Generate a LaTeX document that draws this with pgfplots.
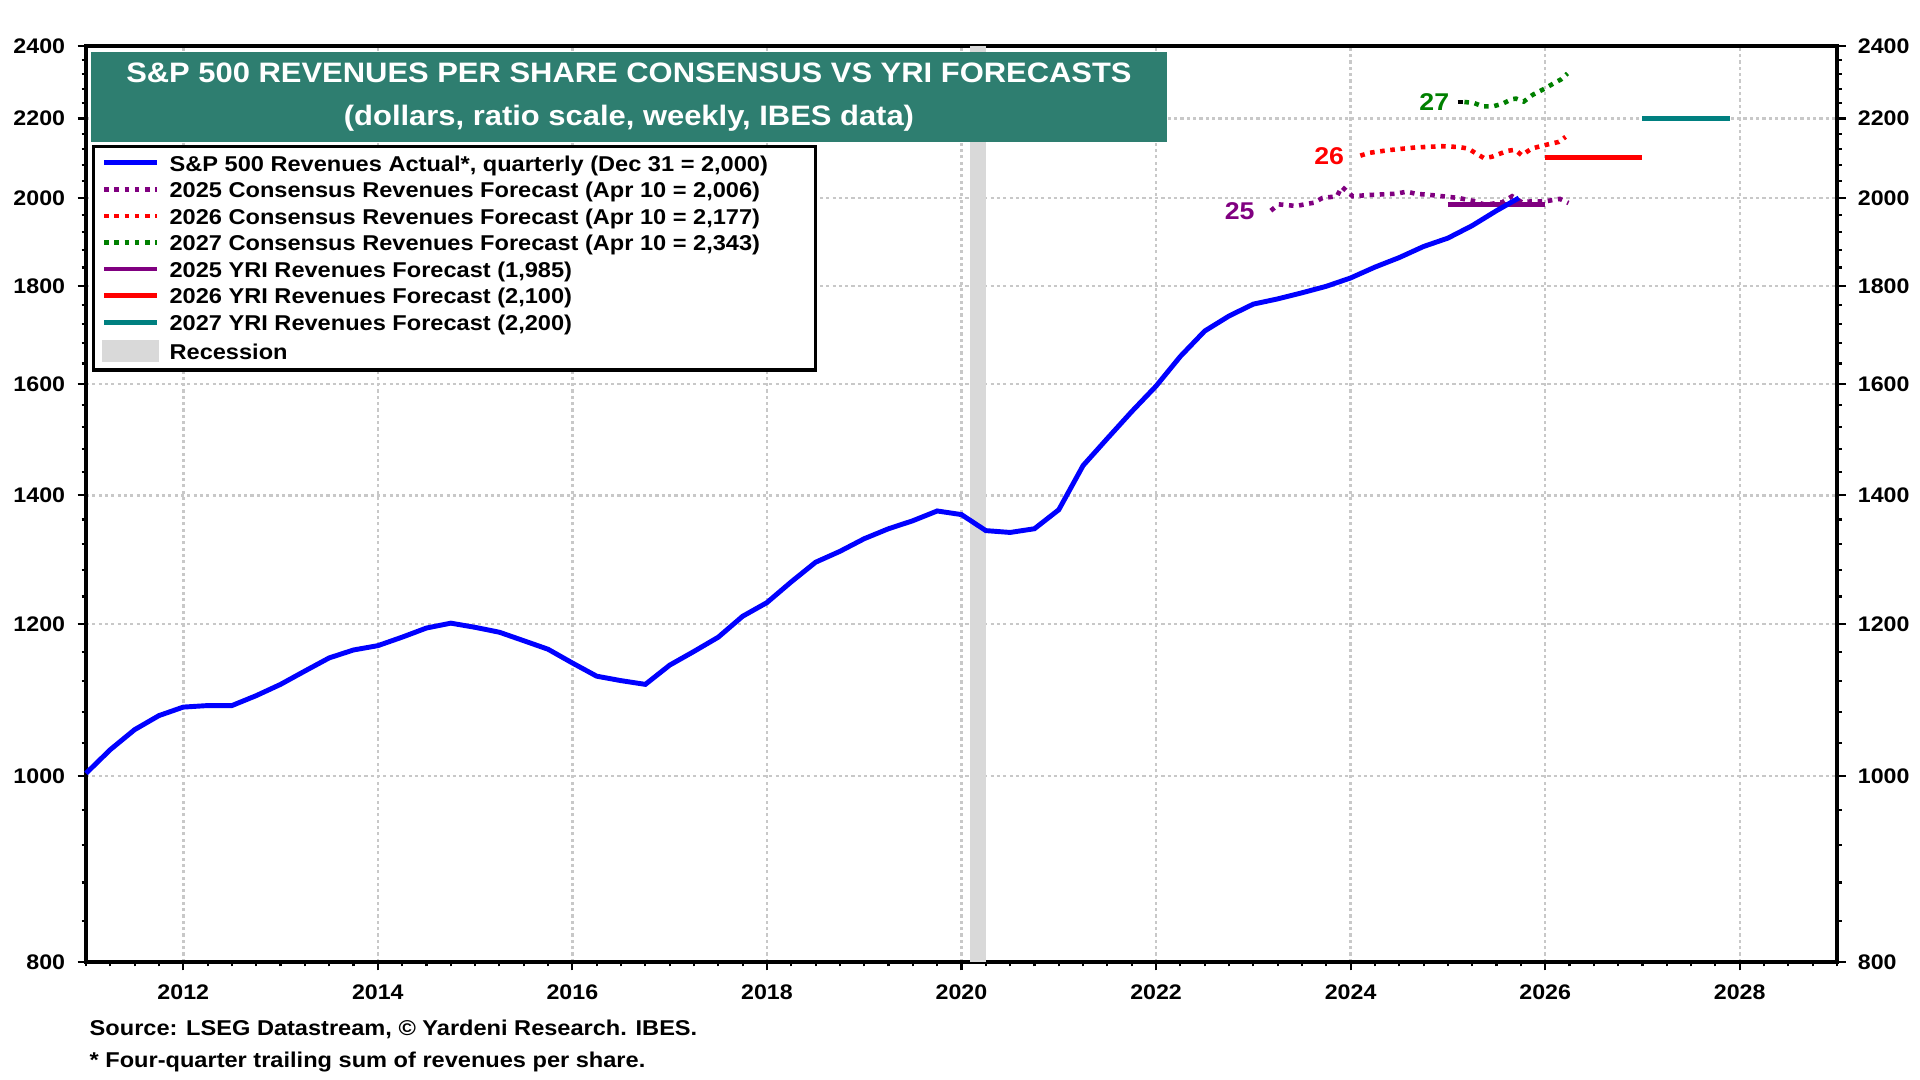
\documentclass[border=0pt]{standalone}
\usepackage{fontspec}
\setmainfont{Liberation Sans}[FakeStretch=1.1]
\usepackage{pgfplots}
\pgfplotsset{compat=1.18}
\usetikzlibrary{calc}
\definecolor{cblue}{RGB}{0,0,255}
\definecolor{cpurple}{RGB}{128,0,128}
\definecolor{cred}{RGB}{255,0,0}
\definecolor{cgreen}{RGB}{0,128,0}
\definecolor{cteal}{RGB}{0,128,128}
\definecolor{titleteal}{RGB}{46,126,112}
\definecolor{recgray}{RGB}{217,217,217}
\definecolor{gridgray}{RGB}{200,200,200}
\newcommand{\ticksz}{\fontsize{6pt}{7pt}\selectfont\bfseries}
\newcommand{\legsz}{\fontsize{6.1pt}{7pt}\selectfont\bfseries}
\newcommand{\footsz}{\fontsize{6.1pt}{7pt}\selectfont\bfseries}
\newcommand{\titlesz}{\fontsize{8pt}{12.23pt}\selectfont\bfseries}
\newcommand{\labsz}{\fontsize{6.9pt}{8pt}\selectfont\bfseries}

\pgfplotstableread{
x y
2011.00 1003
2011.25 1032
2011.50 1057
2011.75 1075
2012.00 1086
2012.25 1088
2012.50 1088
2012.75 1101
2013.00 1116
2013.25 1134
2013.50 1152
2013.75 1163
2014.00 1169
2014.25 1181
2014.50 1194
2014.75 1201
2015.00 1195
2015.25 1188
2015.50 1176
2015.75 1164
2016.00 1145
2016.25 1127
2016.50 1121
2016.75 1116
2017.00 1142
2017.25 1161
2017.50 1181
2017.75 1211
2018.00 1231
2018.25 1262
2018.50 1292
2018.75 1309
2019.00 1329
2019.25 1345
2019.50 1358
2019.75 1374
2020.00 1368
2020.25 1342
2020.50 1339
2020.75 1345
2021.00 1376
2021.25 1451
2021.50 1499
2021.75 1548
2022.00 1596
2022.25 1654
2022.50 1705
2022.75 1736
2023.00 1761
2023.25 1772
2023.50 1785
2023.75 1799
2024.00 1817
2024.25 1841
2024.50 1862
2024.75 1887
2025.00 1906
2025.25 1935
2025.50 1970
2025.73 2000
}\actual

\pgfplotstableread{
x y
2023.18 1970
2023.26 1985
2023.44 1981
2023.62 1989
2023.71 2000
2023.86 2004
2023.91 2027
2024.02 2004
2024.19 2007
2024.46 2010
2024.58 2015
2024.67 2010
2024.87 2006
2025.11 2000
2025.28 1992
2025.38 1984
2025.56 1990
2025.66 2004
2025.76 1990
2025.86 1992
2026.00 1992
2026.15 1998
2026.24 1988
}\consA

\pgfplotstableread{
x y
2024.10 2104
2024.19 2111
2024.39 2118
2024.67 2125
2024.94 2128
2025.11 2126
2025.21 2122
2025.28 2111
2025.37 2098
2025.45 2101
2025.61 2116
2025.69 2119
2025.76 2105
2025.86 2122
2026.00 2131
2026.14 2139
2026.21 2152
}\consB

\pgfplotstableread{
x y
2025.17 2244
2025.27 2241
2025.36 2232
2025.46 2232
2025.56 2239
2025.65 2251
2025.70 2253
2025.78 2245
2025.87 2263
2026.00 2281
2026.09 2295
2026.16 2305
2026.23 2322
}\consC

\begin{document}
\begin{tikzpicture}
\begin{axis}[name=ax, scale only axis, width=17.51cm, height=9.16cm,
  xmin=2011, xmax=2029, ymode=log, ymin=800, ymax=2400, clip=false,
  xtick={2012,2014,2016,2018,2020,2022,2024,2026,2028},
  xticklabels={2012,2014,2016,2018,2020,2022,2024,2026,2028},
  minor xtick={2011,2011.25,...,2029},
  ytick={800,1000,1200,1400,1600,1800,2000,2200,2400},
  yticklabels={800,1000,1200,1400,1600,1800,2000,2200,2400},
  minor ytick={840,880,920,960,1040,1080,1120,1160,1240,1280,1320,1360,1440,1480,1520,1560,1640,1680,1720,1760,1840,1880,1920,1960,2040,2080,2120,2160,2240,2280,2320,2360},
  xtick pos=bottom, ytick pos=both, yticklabel pos=left, tick align=outside,
  major tick length=0.085cm, minor tick length=0.045cm,
  tick style={black, line width=0.6pt},
  grid=major, grid style={gridgray, line width=0.7pt, dash pattern=on 0.9pt off 0.9pt},
  axis line style={line width=1pt},
  ticklabel style={font=\ticksz},
  xticklabel style={yshift=-0.02cm},
  legend style={at={(0.0034,0.892)}, anchor=north west, draw=black, line width=1pt,
    inner xsep=0.08cm, inner ysep=0.08cm, font=\legsz, row sep=2.85pt,
    /tikz/column sep=0.1cm,
    nodes={inner sep=0pt, text height=4.7pt, text depth=0pt, anchor=west}},
  legend cell align=left,
  legend image code/.code={\draw[#1] (0cm,0cm) -- (0.53cm,0cm);},
]
% recession
\addplot[fill=recgray, draw=none, forget plot] coordinates {(2020.083,800) (2020.083,2400) (2020.25,2400) (2020.25,800)} -- cycle;
% YRI forecasts
\addplot[cpurple, line width=1.4pt, forget plot] coordinates {(2025.0,1985) (2026.0,1985)};
\addplot[cred, line width=1.4pt, forget plot] coordinates {(2026.0,2100) (2027.0,2100)};
\addplot[cteal, line width=1.4pt, forget plot] coordinates {(2027.0,2200) (2027.9,2200)};
% consensus
\addplot[cpurple, line width=1.3pt, dash pattern=on 1.3pt off 1.6pt, forget plot] table[x=x,y=y] {\consA};
\addplot[cred, line width=1.3pt, dash pattern=on 1.3pt off 1.6pt, forget plot] table[x=x,y=y] {\consB};
\addplot[cgreen, line width=1.3pt, dash pattern=on 1.3pt off 1.6pt, forget plot] table[x=x,y=y] {\consC};
\addplot[black, line width=1.2pt, forget plot] coordinates {(2025.10,2244) (2025.16,2244)};
% actual
\addplot[cblue, line width=1.4pt, forget plot] table[x=x,y=y] {\actual};

\node[font=\labsz, text=cgreen] at (axis cs:2024.86,2244) {27};
\node[font=\labsz, text=cred] at (axis cs:2023.78,2102) {26};
\node[font=\labsz, text=cpurple] at (axis cs:2022.86,1968) {25};

\node[fill=titleteal, text=white, anchor=north west, minimum width=10.755cm, minimum height=0.9cm, inner sep=0pt, align=center, font=\titlesz] at (rel axis cs:0.0026,0.9938) {S\&P 500 REVENUES PER SHARE CONSENSUS VS YRI FORECASTS\\(dollars, ratio scale, weekly, IBES data)};

\addlegendimage{cblue, line width=1.4pt}
\addlegendentry{\makebox[6.38cm][l]{S\&P 500 Revenues Actual*, quarterly (Dec 31 = 2,000)}}
\addlegendimage{cpurple, line width=1.3pt, dash pattern=on 1.3pt off 1.6pt}
\addlegendentry{2025 Consensus Revenues Forecast (Apr 10 = 2,006)}
\addlegendimage{cred, line width=1.3pt, dash pattern=on 1.3pt off 1.6pt}
\addlegendentry{2026 Consensus Revenues Forecast (Apr 10 = 2,177)}
\addlegendimage{cgreen, line width=1.3pt, dash pattern=on 1.3pt off 1.6pt}
\addlegendentry{2027 Consensus Revenues Forecast (Apr 10 = 2,343)}
\addlegendimage{cpurple, line width=1.4pt}
\addlegendentry{2025 YRI Revenues Forecast (1,985)}
\addlegendimage{cred, line width=1.4pt}
\addlegendentry{2026 YRI Revenues Forecast (2,100)}
\addlegendimage{cteal, line width=1.4pt}
\addlegendentry{2027 YRI Revenues Forecast (2,200)}
\addlegendimage{legend image code/.code={\fill[recgray] (0cm,-0.09cm) rectangle (0.53cm,0.09cm);}}
\addlegendentry{Recession}
\end{axis}
\begin{axis}[scale only axis, width=17.51cm, height=9.16cm,
  xmin=2011, xmax=2029, ymode=log, ymin=800, ymax=2400,
  xtick=\empty, axis line style={draw=none},
  ytick={800,1000,1200,1400,1600,1800,2000,2200,2400},
  yticklabels={800,1000,1200,1400,1600,1800,2000,2200,2400},
  minor ytick={}, ytick pos=right, yticklabel pos=right, tick align=outside,
  major tick length=0.085cm, major tick style={draw=none},
  ticklabel style={font=\ticksz}]
\end{axis}
\node[anchor=west, font=\footsz, inner sep=0pt] at ($(ax.south west)+(0.03cm,-0.67cm)$) {Source: LSEG Datastream, © Yardeni Research. IBES.};
\node[anchor=west, font=\footsz, inner sep=0pt] at ($(ax.south west)+(0.03cm,-1.0cm)$) {* Four-quarter trailing sum of revenues per share.};
\pgfresetboundingbox
\path[use as bounding box] ($(ax.south west)+(-0.86cm,-1.18cm)$) rectangle ($(ax.north east)+(0.83cm,0.46cm)$);
\end{tikzpicture}
\end{document}
